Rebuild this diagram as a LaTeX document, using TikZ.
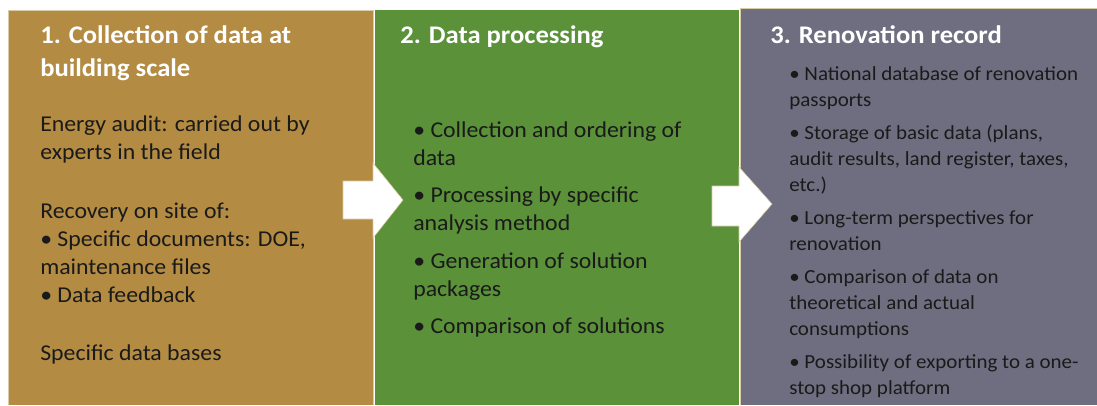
\documentclass[tikz,border=0pt]{standalone}
\usepackage{fontspec}
\setmainfont{Carlito}[FakeStretch=1.05]

\definecolor{auditgold}{HTML}{B38B42}
\definecolor{procgreen}{HTML}{5A9139}
\definecolor{recordgrey}{HTML}{6E6E80}
\definecolor{edgetan}{HTML}{D9CBA6}
\definecolor{bodyink}{HTML}{1A1A1A}

\begin{document}
\begin{tikzpicture}[
  x=0.75pt, y=-0.75pt,
  % multi-line nodes sit on the baseline of their last line
  heading/.style={anchor=base west, inner sep=0pt, text=white, align=left,
    font=\fontsize{19}{24.75}\selectfont\bfseries},
  item/.style={anchor=base west, inner sep=0pt, text=bodyink, align=left,
    font=\fontsize{17}{21}\selectfont},
  smallitem/.style={item, font=\fontsize{15}{19.5}\selectfont},
  flow/.style={fill=white, draw=edgetan, line width=0.4pt}
]
\useasboundingbox (0,0) rectangle (1097,405);

% the three panels
\fill[auditgold] (8,10) rectangle (373,405);
\fill[procgreen] (374,10) rectangle (739,405);
\fill[recordgrey] (740,8) rectangle (1097,405);
\draw[edgetan, line width=0.75pt] (8,405) -- (8,10) -- (373,10) -- (373,405);
\draw[white, line width=0.75pt] (374,10) -- (374,405);
\draw[edgetan, line width=0.75pt] (740,405) -- (740,8) -- (1097,8);

% panel 1
\node[heading] (collect) at (40,76) {1. Collection of data at\\building scale};
\node[item] (audit) at (40,159) {Energy audit: carried out by\\experts in the field};
\node[item] (recovery) at (40,302) {Recovery on site of:\\• Specific documents: DOE,\\maintenance files\\• Data feedback};
\node[item] (bases) at (40,360) {Specific data bases};

% panel 2
\node[heading] (process) at (400,43) {2. Data processing};
\node[item] (ordering) at (413,165) {• Collection and ordering of\\data};
\node[item] (method) at (413,230) {• Processing by specific\\analysis method};
\node[item] (packages) at (413,296) {• Generation of solution\\packages};
\node[item] (compare) at (413,333) {• Comparison of solutions};

% panel 3
\node[heading] (record) at (770,43) {3. Renovation record};
\node[smallitem] (national) at (789,106) {• National database of renovation\\passports};
\node[smallitem] (storage) at (789,191) {• Storage of basic data (plans,\\audit results, land register, taxes,\\etc.)};
\node[smallitem] (longterm) at (789,250) {• Long-term perspectives for\\renovation};
\node[smallitem] (consump) at (789,335) {• Comparison of data on\\theoretical and actual\\consumptions};
\node[smallitem] (export) at (789,394) {• Possibility of exporting to a one-\\stop shop platform};

% arrows between panels
\draw[flow] (343,181) -- (373,181) -- (373,163) -- (403,200) -- (373,238)
  -- (373,219) -- (343,219) -- cycle;
\draw[flow] (712,186) -- (739,186) -- (739,167) -- (772,204) -- (739,242)
  -- (739,226) -- (712,226) -- cycle;
\end{tikzpicture}
\end{document}
